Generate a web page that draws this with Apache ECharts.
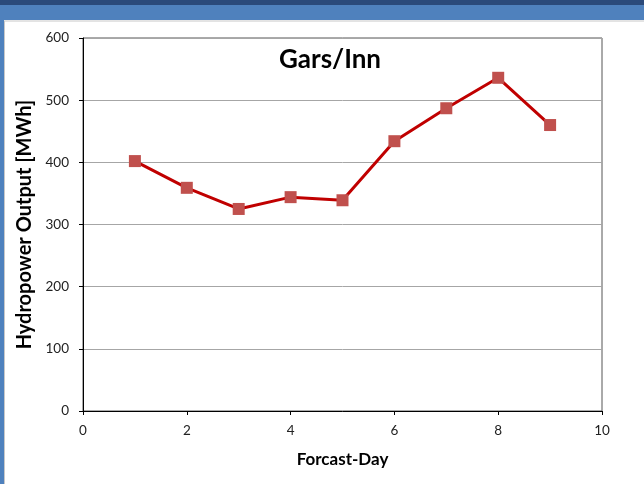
<!DOCTYPE html>
<html>
<head>
  <meta charset="utf-8">
  <title>Gars/Inn</title>
  <script src="https://cdn.jsdelivr.net/npm/echarts@6/dist/echarts.min.js"></script>
  <style>
    html, body { margin: 0; padding: 0; background: #fff; }
    #chart { width: 644px; height: 484px; }
  </style>
</head>
<body>
  <div id="chart"></div>
  <script>
    // forecast days and hydropower output
    const days = [1, 2, 3, 4, 5, 6, 7, 8, 9];
    const output = [402, 359, 325, 344, 339, 434, 487, 536, 460];
    const xTicks = [0, 2, 4, 6, 8, 10];
    const yTicks = [0, 100, 200, 300, 400, 500, 600];

    let points = [];
    for (let i in days)
      points.push([days[i], output[i]]);

    let myChart = echarts.init(document.getElementById('chart'));
    let option = {
      animation: false,
      backgroundColor: '#ffffff',
      graphic: [
        { type: 'rect', shape: { x: 0, y: 0, width: 644, height: 5 }, style: { fill: '#2b4a7a' }, z: -10 },
        { type: 'rect', shape: { x: 0, y: 5, width: 644, height: 15 }, style: { fill: '#4f81bd' }, z: -10 },
        { type: 'rect', shape: { x: 0, y: 5, width: 4, height: 479 }, style: { fill: '#4f81bd' }, z: -10 },
        { type: 'line', shape: { x1: 4, y1: 21, x2: 644, y2: 21 }, style: { stroke: '#c8c8c8', lineWidth: 1 }, z: -9 },
        { type: 'line', shape: { x1: 4.5, y1: 21, x2: 4.5, y2: 484 }, style: { stroke: '#c8c8c8', lineWidth: 1 }, z: -9 }
      ],
      title: {
        text: 'Gars/Inn',
        left: 325,
        top: 42,
        textAlign: 'center',
        textStyle: { fontFamily: 'Lato', fontSize: 26, fontWeight: 'bold', color: '#000' }
      },
      grid: {
        left: 83,
        right: 42,
        top: 38,
        bottom: 73,
        show: true,
        borderColor: '#555',
        borderWidth: 1
      },
      xAxis: {
        type: 'value',
        min: xTicks[0],
        max: xTicks[xTicks.length - 1],
        interval: 2,
        name: 'Forcast-Day',
        nameLocation: 'middle',
        nameGap: 40,
        nameTextStyle: { fontFamily: 'Lato', fontSize: 17, fontWeight: 'bold', color: '#000' },
        axisLine: { lineStyle: { color: '#000', width: 1 } },
        axisTick: { show: true, length: 4, inside: false, lineStyle: { color: '#000' } },
        axisLabel: { fontFamily: 'Lato', fontSize: 13.5, color: '#222', margin: 13 },
        splitLine: { show: false }
      },
      yAxis: {
        type: 'value',
        min: yTicks[0],
        max: yTicks[yTicks.length - 1],
        interval: 100,
        name: 'Hydropower Output [MWh]',
        nameLocation: 'middle',
        nameGap: 43,
        nameTextStyle: { fontFamily: 'Lato', fontSize: 20, fontWeight: 'bold', color: '#000' },
        axisLine: { show: true, lineStyle: { color: '#000', width: 1 } },
        axisTick: { show: true, length: 4, inside: false, lineStyle: { color: '#000' } },
        axisLabel: { fontFamily: 'Lato', fontSize: 13.5, color: '#222', margin: 14 },
        splitLine: { show: true, lineStyle: { color: '#a6a6a6', width: 1 } }
      },
      series: [{
        type: 'line',
        data: points,
        symbol: 'rect',
        symbolSize: 12,
        lineStyle: { color: '#c00000', width: 3 },
        itemStyle: { color: '#c0504d', borderWidth: 0 },
        z: 3
      }]
    };
    myChart.setOption(option);
  </script>
</body>
</html>
